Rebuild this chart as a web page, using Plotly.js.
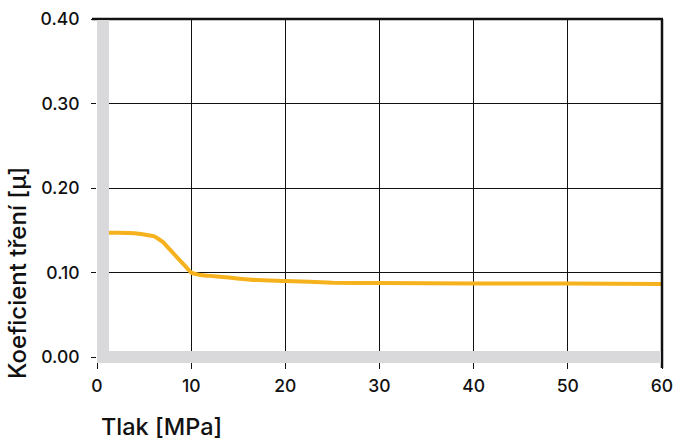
<!DOCTYPE html>
<html>
<head>
<meta charset="utf-8">
<script src="https://cdn.plot.ly/plotly-3.0.1.min.js"></script>
<style>html,body{margin:0;padding:0;background:#fff;}#chart{width:675px;height:445px;}</style>
</head>
<body>
<div id="chart"></div>
<script>
// Data
var pressure = [0, 2, 4, 5, 6, 6.5, 7, 7.5, 8, 8.5, 9, 9.5, 10, 11, 12, 14, 17, 20, 25, 30, 40, 50, 60];
var friction = [0.147, 0.147, 0.1465, 0.145, 0.143, 0.140, 0.136, 0.130, 0.124, 0.118, 0.112, 0.106, 0.100, 0.097, 0.096, 0.094, 0.091, 0.090, 0.088, 0.0875, 0.087, 0.087, 0.0865];
var xTicks = [0, 10, 20, 30, 40, 50, 60];
var yTicks = [0, 0.1, 0.2, 0.3, 0.4];
var yTickLabels = ['0.00', '0.10', '0.20', '0.30', '0.40'];
var xTitle = 'Tlak [MPa]';
var yTitle = 'Koeficient tření [µ]';

var W = 675, H = 445, ml = 97, mr = 13, mt = 19, mb = 88;
var pw = W - ml - mr, ph = H - mt - mb;
var px = function (p) { return p / pw; };
var py = function (p) { return p / ph; };

var font = 'Inter, Liberation Sans, Arial, sans-serif';
var grey = '#d9d9db';
var ink = '#111111';

var trace = {
  x: pressure, y: friction, type: 'scatter', mode: 'lines',
  line: {color: '#f6b21c', width: 4, shape: 'spline', smoothing: 0.6},
  hoverinfo: 'skip'
};

var layout = {
  width: W, height: H,
  margin: {l: ml, r: mr, t: mt, b: mb, pad: 0},
  paper_bgcolor: '#fff', plot_bgcolor: '#fff',
  showlegend: false,
  font: {family: font, color: ink, size: 17, weight: 500},
  xaxis: {
    range: [0, 60], tickvals: xTicks, ticktext: xTicks.map(String),
    ticks: 'outside', ticklen: 11, tickwidth: 1, tickcolor: ink,
    ticklabelstandoff: 2,
    showgrid: true, gridcolor: ink, gridwidth: 1,
    zeroline: false, showline: false, fixedrange: true,
    tickfont: {family: font, size: 17.5, color: ink, weight: 500}
  },
  yaxis: {
    range: [0, 0.4], tickvals: yTicks, ticktext: yTickLabels,
    ticks: 'outside', ticklen: 5, tickwidth: 1, tickcolor: ink,
    ticklabelstandoff: 8,
    showgrid: true, gridcolor: ink, gridwidth: 1,
    zeroline: false, showline: false, fixedrange: true,
    tickfont: {family: font, size: 17.5, color: ink, weight: 500}
  },
  shapes: [
    {type: 'line', xref: 'paper', yref: 'paper', x0: -px(5), x1: 1 + px(1), y0: 1, y1: 1,
     line: {color: ink, width: 2.5}, layer: 'above'},
    {type: 'line', xref: 'paper', yref: 'paper', x0: 1, x1: 1, y0: -py(11), y1: 1,
     line: {color: ink, width: 2.5}, layer: 'above'},
    {type: 'rect', xref: 'paper', yref: 'paper', x0: 0, x1: px(12), y0: -py(6), y1: 1 - py(1),
     fillcolor: grey, line: {width: 0}, layer: 'above'},
    {type: 'rect', xref: 'paper', yref: 'paper', x0: 0, x1: 1 - px(1), y0: -py(6), y1: py(6),
     fillcolor: grey, line: {width: 0}, layer: 'above'}
  ],
  annotations: [
    {text: xTitle, xref: 'paper', yref: 'paper', x: px(2), y: -py(69),
     xanchor: 'left', yanchor: 'middle', showarrow: false,
     font: {family: font, size: 23.5, color: ink, weight: 500}},
    {text: yTitle, xref: 'paper', yref: 'paper', x: -px(80), y: py(84),
     xanchor: 'center', yanchor: 'middle', showarrow: false, textangle: -90,
     font: {family: font, size: 24, color: ink, weight: 500}}
  ]
};

Plotly.newPlot('chart', [trace], layout, {displayModeBar: false, staticPlot: true});
</script>
</body>
</html>
